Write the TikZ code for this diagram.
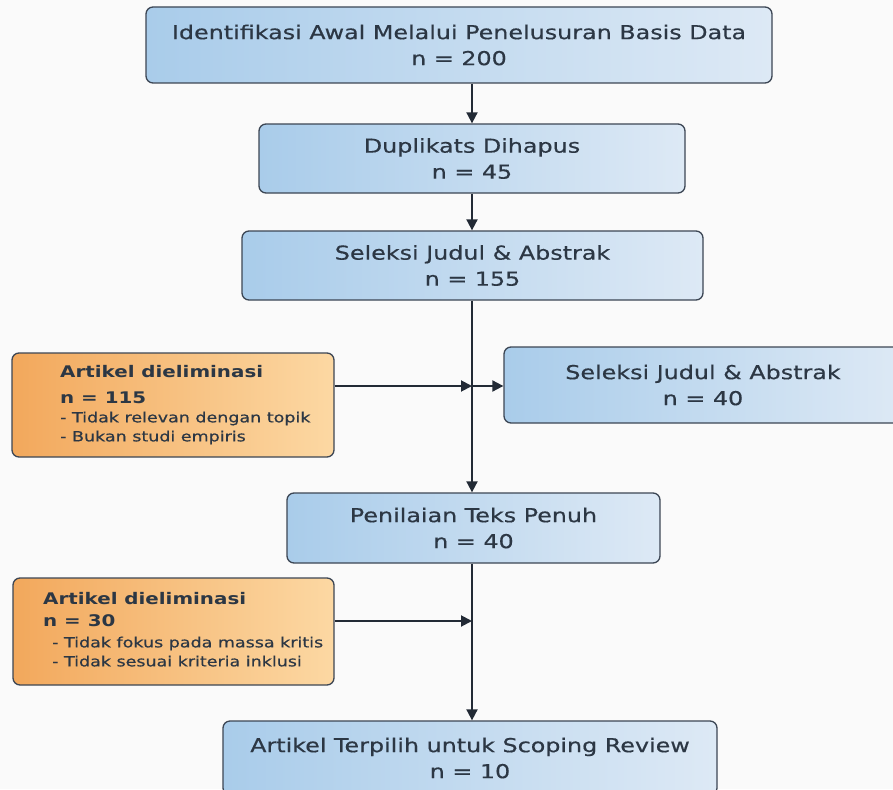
\documentclass[tikz,border=0pt]{standalone}
\usepackage{fontspec}
\setmainfont{DejaVu Sans}[FakeStretch=1.24, FakeBold=0.5]
\newfontfamily\headfont{DejaVu Sans}[FakeStretch=1.24]
\usetikzlibrary{arrows.meta}

\definecolor{paper}{HTML}{FAFAFA}
\definecolor{boxline}{HTML}{3C4654}
\definecolor{ink}{HTML}{2C3744}
\definecolor{flowline}{HTML}{222A35}
\definecolor{blueL}{HTML}{A9CCEA}
\definecolor{blueR}{HTML}{DDE9F5}
\definecolor{orgL}{HTML}{F2A85C}
\definecolor{orgR}{HTML}{FCD8A3}

\tikzset{
  stepbox/.style={draw=boxline, line width=1.3pt, rounded corners=7pt,
    left color=blueL, right color=blueR, text=ink, align=center,
    font=\fontsize{19.2}{26}\selectfont, inner sep=0pt},
  elimbox/.style={draw=boxline, line width=1.3pt, rounded corners=7pt,
    left color=orgL, right color=orgR, inner sep=0pt},
  elimtext/.style={anchor=north west, align=left, text=ink, inner sep=0pt,
    font=\fontsize{14.1}{19}\selectfont},
  flow/.style={draw=flowline, line width=1.9pt,
    -{Triangle[length=11pt,width=11pt]}}
}

\begin{document}
\begin{tikzpicture}[x=1pt,y=-1pt]
\useasboundingbox[fill=paper] (0,0) rectangle (893,789);
\clip (0,0) rectangle (893,789);

% main column
\node[stepbox, minimum width=626pt, minimum height=76pt] (ident) at (459,45)
  {Identifikasi Awal Melalui Penelusuran Basis Data\\n = 200};
\node[stepbox, minimum width=426pt, minimum height=69pt] (dupl) at (472,158.5)
  {Duplikats Dihapus\\n = 45};
\node[stepbox, minimum width=461pt, minimum height=69pt] (selek) at (472.5,265.5)
  {Seleksi Judul \& Abstrak\\n = 155};
\node[stepbox, minimum width=373pt, minimum height=70pt] (teks) at (473.5,528)
  {Penilaian Teks Penuh\\n = 40};
\node[stepbox, minimum width=494pt, minimum height=74pt] (akhir) at (470,758)
  {Artikel Terpilih untuk Scoping Review\\n = 10};

% side boxes
\node[stepbox, minimum width=398pt, minimum height=76pt] (selek2) at (703,385)
  {Seleksi Judul \& Abstrak\\n = 40};
\node[elimbox, minimum width=322pt, minimum height=104pt] (elimA) at (173,405) {};
\node[elimtext] (elimAtxt) at (60,365)
  {{\headfont\bfseries\fontsize{16}{19}\selectfont Artikel dieliminasi}\\[7pt]
   {\headfont\bfseries\fontsize{16}{19}\selectfont n = 115}\\
   - Tidak relevan dengan topik\\
   - Bukan studi empiris};
\node[elimbox, minimum width=321pt, minimum height=107pt] (elimB) at (173.5,631.5) {};
\node[elimtext] (elimBtxt) at (43,592)
  {{\headfont\bfseries\fontsize{16}{19}\selectfont Artikel dieliminasi}\\[3pt]
   {\headfont\bfseries\fontsize{16}{19}\selectfont n = 30}\\[2pt]
   \hspace*{9pt}- Tidak fokus pada massa kritis\\
   \hspace*{9pt}- Tidak sesuai kriteria inklusi};

% junctions on the main line
\coordinate (jA) at (472,386);
\coordinate (jB) at (472,621);

% connectors
\draw[flow] (dupl.north |- ident.south) -- (dupl.north);
\draw[flow] (dupl.south) -- (selek.north -| dupl.south);
\draw[flow] (jA |- selek.south) -- (jA |- teks.north);
\draw[flow] (elimA.east |- jA) -- (jA);
\draw[flow] (jA) -- (selek2.west |- jA);
\draw[flow] (elimB.east |- jB) -- (jB);
\draw[flow] (jB |- teks.south) -- (jB |- akhir.north);
\end{tikzpicture}
\end{document}
